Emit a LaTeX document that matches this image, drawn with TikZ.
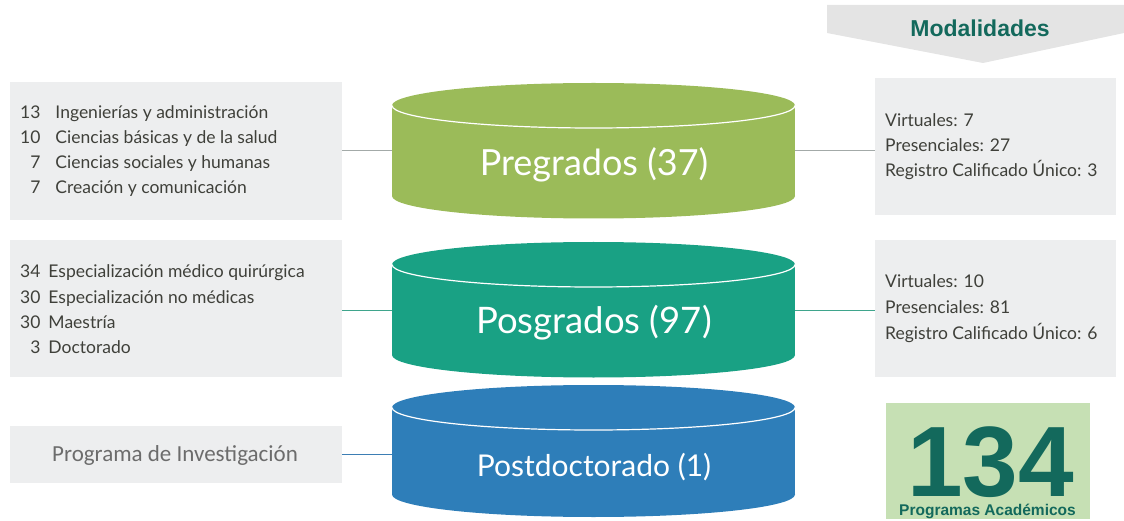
\documentclass[tikz,border=0pt]{standalone}
\usepackage{fontspec}
\setmainfont{Lato}
\newfontfamily\arialf{Liberation Sans}
\newfontfamily\calibf{Carlito}
\definecolor{boxgray}{HTML}{EDEEEF}
\definecolor{txtgray}{HTML}{3F403A}
\definecolor{cgreen}{HTML}{9BBB59}
\definecolor{cteal}{HTML}{19A184}
\definecolor{cblue}{HTML}{2E7EB9}
\definecolor{darkteal}{HTML}{13695C}
\definecolor{lgreen}{HTML}{C6E0B4}
\definecolor{chevgray}{HTML}{E4E4E4}
\definecolor{lgray}{HTML}{A3AAA8}
\definecolor{lteal}{HTML}{3FA58C}
\definecolor{lblue}{HTML}{3D7EB4}
\tikzset{
  infobox/.style={fill=boxgray, draw=none, inner sep=0pt},
  listtext/.style={text=txtgray, font=\fontsize{17.5}{25}\selectfont, inner sep=0pt, anchor=west},
  cyltext/.style={text=white, inner sep=0pt},
  cylarea/.style={draw=none, inner sep=0pt, minimum width=403pt},
  link/.style={line width=1pt},
}
\newcommand{\cylshape}[4]{% color, top center y, bottom center y, ry
  \fill[#1] (392,#2) rectangle (795,#3);
  \fill[#1] (593.5,#3) ellipse[x radius=201.5, y radius=#4];
  \fill[#1] (593.5,#2) ellipse[x radius=201.5, y radius=#4];
  \draw[white, line width=1.2pt] (392,#2) arc[start angle=180, end angle=0, x radius=201.5, y radius=#4];
}
\begin{document}
\begin{tikzpicture}[x=1pt,y=-1pt]
\useasboundingbox (0,0) rectangle (1124,521);
% chevron
\fill[chevgray] (827,5) -- (1124,5) -- (1124,33) -- (983,63) -- (827,33) -- cycle;
\node[text=darkteal, font=\arialf\bfseries\fontsize{23}{26}\selectfont] (mod) at (980,28) {Modalidades};

% left boxes
\node[infobox, minimum width=332pt, minimum height=138pt] (lb1) at (176,151) {};
\node[infobox, minimum width=332pt, minimum height=137pt] (lb2) at (176,308.5) {};
\node[infobox, minimum width=332pt, minimum height=57pt] (lb3) at (176,454) {};
% right boxes
\node[infobox, minimum width=241pt, minimum height=137pt, anchor=north west] (rb1) at (875,78) {};
\node[infobox, minimum width=241pt, minimum height=137pt, anchor=north west] (rb2) at (875,240) {};

% cylinders
\cylshape{cgreen}{105.5}{196}{22.5}
\cylshape{cteal}{264.5}{355}{22.5}
\cylshape{cblue}{407.5}{494.5}{22.5}
\node[cylarea, minimum height=90pt] (pre) at (593.5,151) {};
\node[cylarea, minimum height=90pt] (pos) at (593.5,310) {};
\node[cylarea, minimum height=87pt] (post) at (593.5,454) {};
\node[cyltext, font=\fontsize{36}{40}\selectfont] (pret) at (594,165) {Pregrados (37)};
\node[cyltext, font=\fontsize{36.5}{40}\selectfont] (post1) at (594,323) {Posgrados (97)};
\node[cyltext, font=\fontsize{30}{34}\selectfont] (postt) at (594,467) {Postdoctorado (1)};

% connectors
\draw[link, lgray] (lb1.east |- pre.west) -- (pre.west);
\draw[link, lteal] (lb2.east |- pos.west) -- (pos.west);
\draw[link, lblue] (lb3.east |- post.west) -- (post.west);
\draw[link, lgray] (pre.east) -- (pre.east -| rb1.west);
\draw[link, lteal] (pos.east) -- (pos.east -| rb2.west);

% left texts
\node[listtext] (lt1) at (20,151.5) {\begin{tabular}{@{}r@{\hspace{15pt}}l@{}}
13 & Ingenierías y administración\\
10 & Ciencias básicas y de la salud\\
7 & Ciencias sociales y humanas\\
7 & Creación y comunicación
\end{tabular}};
\node[listtext] (lt2) at (20,310.5) {\begin{tabular}{@{}r@{\hspace{8pt}}l@{}}
34 & Especialización médico quirúrgica\\
30 & Especialización no médicas\\
30 & Maestría\\
3 & Doctorado
\end{tabular}};
\node[text=gray!85!black, font=\calibf\fontsize{23}{26}\selectfont, inner sep=0pt, anchor=west] (lt3) at (52,455) {Programa de Investigación};

% right texts
\node[listtext, align=left] (rt1) at (885,147) {Virtuales: 7\\Presenciales: 27\\Registro Calificado Único: 3};
\node[listtext, align=left, font=\fontsize{17.5}{26}\selectfont] (rt2) at (885,309) {Virtuales: 10\\Presenciales: 81\\Registro Calificado Único: 6};

% 134 box
\node[fill=lgreen, minimum width=204pt, minimum height=116pt, inner sep=0pt, anchor=north west] (tot) at (886,403) {};
\node[text=darkteal, font=\arialf\bfseries\fontsize{100}{100}\selectfont, inner sep=0pt, text depth=0pt, anchor=base] (num) at (990.5,496) {134};
\node[text=darkteal, font=\arialf\bfseries\fontsize{15.5}{17}\selectfont, inner sep=0pt, anchor=base] (pa) at (987.5,515) {Programas Académicos};
\end{tikzpicture}
\end{document}
